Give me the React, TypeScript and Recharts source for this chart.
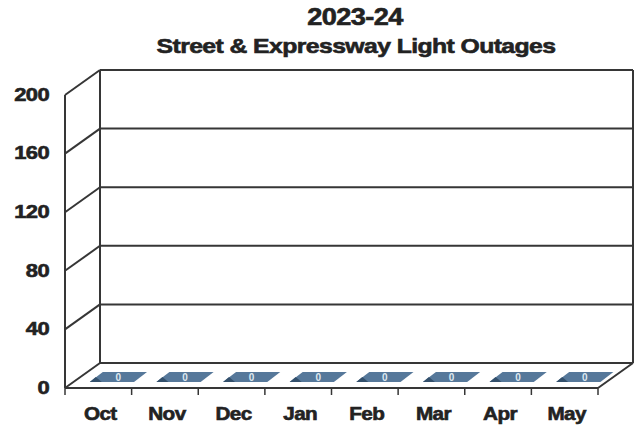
import { BarChart, Bar, XAxis, YAxis, CartesianGrid, Customized } from "recharts";

const months = ["Oct", "Nov", "Dec", "Jan", "Feb", "Mar", "Apr", "May"];
const outages = [0, 0, 0, 0, 0, 0, 0, 0];
const yTicks = [0, 40, 80, 120, 160, 200];

const data = months.map((m, i) => ({ month: m, value: outages[i] }));

// back wall box and oblique depth offset
const LEFT = 100;
const TOP = 70;
const RIGHT = 633;
const BOTTOM = 363;
const DX = 35;
const DY = 25;
const LINE = "#363636";
const TEXT = "#222222";
const FONT = "'Liberation Sans', Arial, sans-serif";

// the scan is stretched sideways, so text is widened with a scale
function WideText({ x, y, sx, size, anchor, children, fill = TEXT }: any) {
  return (
    <text
      transform={`translate(${x},${y}) scale(${sx},1)`}
      textAnchor={anchor}
      dominantBaseline="middle"
      fontFamily={FONT}
      fontWeight="bold"
      fontSize={size}
      fill={fill}
      stroke={fill}
      strokeWidth={0.6}
      letterSpacing={-0.5}
    >
      {children}
    </text>
  );
}

function YTick(props: any) {
  const { y, payload } = props;
  return (
    <g>
      <line x1={LEFT} y1={y} x2={LEFT - DX} y2={y + DY} stroke={LINE} strokeWidth={2} />
      <WideText x={49} y={y + DY + 1} sx={1.22} size={18} anchor="end">
        {String(payload.value)}
      </WideText>
    </g>
  );
}

function XTick(props: any) {
  const { x, payload, index } = props;
  const band = (RIGHT - LEFT) / months.length;
  const cx = x - DX;
  const start = cx - band / 2;
  return (
    <g>
      <line x1={start} y1={BOTTOM + DY} x2={start} y2={BOTTOM + DY + 7} stroke={LINE} strokeWidth={1.5} />
      {index === months.length - 1 && (
        <line x1={start + band} y1={BOTTOM + DY} x2={start + band} y2={BOTTOM + DY + 7} stroke={LINE} strokeWidth={1.5} />
      )}
      <WideText x={cx + 2} y={415} sx={1.15} size={18} anchor="middle">
        {payload.value}
      </WideText>
    </g>
  );
}

function FlatBar(props: any) {
  const { x, y, height, width } = props;
  const base = y + height;
  const fx = x - DX;
  const hgt = Math.max(height, 0);
  const fl = fx + width * 0.37;
  const fr = fx + width * 1.03;
  const fy = base + DY - 6;
  const by = base + DY - 16;
  const s = 13;
  return (
    <g>
      <polygon
        points={`${fl},${fy - hgt} ${fr},${fy - hgt} ${fr + s},${by - hgt} ${fl + s},${by - hgt}`}
        fill="#56789a"
      />
      <polygon points={`${fl},${fy} ${fl + 6},${fy - 5} ${fl + 12},${fy}`} fill="#33506c" />
      <text
        x={(fl + fr + s) / 2}
        y={(fy + by) / 2 + 1}
        textAnchor="middle"
        dominantBaseline="middle"
        fontFamily={FONT}
        fontWeight="bold"
        fontSize={10}
        fill="#dfe8f0"
      >
        {props.value}
      </text>
    </g>
  );
}

function Frame() {
  return (
    <g>
      <WideText x={355} y={19} sx={1.18} size={23} anchor="middle">
        2023-24
      </WideText>
      <WideText x={356} y={47} sx={1.18} size={21} anchor="middle">
        Street &amp; Expressway Light Outages
      </WideText>
      <line x1={LEFT} y1={TOP} x2={LEFT} y2={BOTTOM} stroke={LINE} strokeWidth={2} />
      <line x1={RIGHT} y1={TOP} x2={RIGHT} y2={BOTTOM} stroke={LINE} strokeWidth={2} />
      <line x1={LEFT - DX} y1={TOP + DY} x2={LEFT - DX} y2={BOTTOM + DY} stroke={LINE} strokeWidth={2} />
      <line x1={LEFT - DX} y1={BOTTOM + DY} x2={RIGHT - DX} y2={BOTTOM + DY} stroke={LINE} strokeWidth={2} />
      <line x1={RIGHT} y1={BOTTOM} x2={RIGHT - DX} y2={BOTTOM + DY} stroke={LINE} strokeWidth={2} />
    </g>
  );
}

export default function App() {
  return (
    <div style={{ position: "absolute", left: 0, top: 0, background: "#fff" }}>
      <BarChart
        width={639}
        height={427}
        data={data}
        margin={{ top: TOP, right: 639 - RIGHT, left: 0, bottom: 0 }}
        barCategoryGap={0}
      >
        <CartesianGrid vertical={false} stroke={LINE} strokeWidth={2} />
        <XAxis dataKey="month" axisLine={false} tickLine={false} tick={<XTick />} interval={0} height={427 - BOTTOM} />
        <YAxis
          domain={[0, 200]}
          ticks={yTicks}
          axisLine={false}
          tickLine={false}
          tick={<YTick />}
          width={LEFT}
          interval={0}
        />
        <Bar dataKey="value" shape={<FlatBar />} isAnimationActive={false} />
        <Customized component={<Frame />} />
      </BarChart>
    </div>
  );
}
